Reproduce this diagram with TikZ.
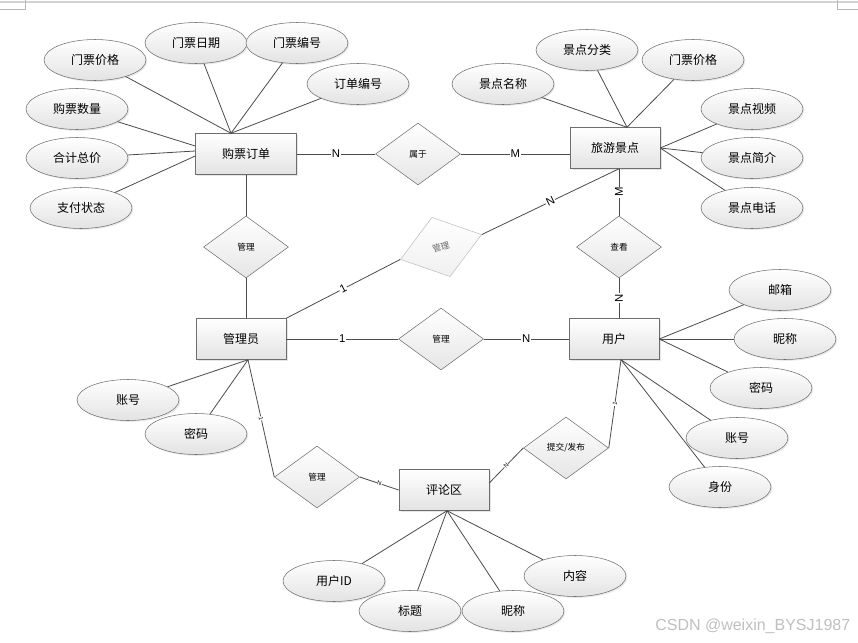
\documentclass[tikz,border=0pt]{standalone}
\usepackage{fontspec}
\setmainfont{Noto Sans CJK SC}
\newfontfamily\cardfont{Liberation Sans}
\usepackage{tikz}
\usetikzlibrary{shapes.geometric, shadows, calc}
\definecolor{linkgray}{RGB}{75,75,75}
\definecolor{boxgray}{RGB}{110,110,110}

\begin{document}
\begin{tikzpicture}[x=0.75pt, y=-0.75pt,
  entity/.style={rectangle, draw=boxgray, top color=white, bottom color=gray!22,
    minimum width=67.5pt, minimum height=30.75pt, inner sep=0pt,
    font=\fontsize{9}{9}\selectfont,
    drop shadow={shadow xshift=1.2pt, shadow yshift=-1.2pt, fill=gray!40}},
  attr/.style={ellipse, draw=boxgray, top color=white, bottom color=gray!22,
    minimum width=76.5pt, minimum height=30.75pt, inner sep=0pt,
    font=\fontsize{9}{9}\selectfont,
    drop shadow={shadow xshift=1pt, shadow yshift=-1pt, fill=gray!35}},
  rel/.style={diamond, draw=boxgray, top color=white, bottom color=gray!20,
    minimum width=63.75pt, minimum height=46.5pt, inner sep=0pt,
    font=\fontsize{6.5}{6.5}\selectfont},
  link/.style={draw=linkgray, line width=0.6pt},
  card/.style={fill=white, inner sep=0.6pt, font=\cardfont\fontsize{8.5}{8.5}\selectfont},
  tick/.style={fill=white, inner sep=0.3pt, font=\cardfont\fontsize{4.5}{4.5}\selectfont}]
\useasboundingbox (0,0) rectangle (858,643);
% Page edge marks
\draw[gray!35, line width=2pt] (0,2) -- (858,2);
\draw[gray!55] (25,0) -- (25,9) -- (0,9);
\draw[gray!55] (837,0) -- (837,9) -- (858,9);
% Entities
\node[entity, minimum width=75.75pt] (order) at (246,154) {购票订单};
\node[entity] (spot) at (615,148) {旅游景点};
\node[entity] (admin) at (241,339) {管理员};
\node[entity] (user) at (614,339) {用户};
\node[entity] (forum) at (444,490) {评论区};
% Relations
\node[rel] (belong) at (418,154) {属于};
\node[rel] (mgrorder) at (246,247) {管理};
\node[rel, rotate=17, draw=gray!50, text=black!60, bottom color=gray!12] (mgrspot) at (441,247) {管理};
\node[rel] (mgruser) at (441,339) {管理};
\node[rel] (view) at (619,247) {查看};
\node[rel] (mgrforum) at (317,477) {管理};
\node[rel] (post) at (566,448) {提交/发布};
% Meeting points of the attribute lines
\coordinate (ordertop) at ($(order.north)+(-15,0)$);
\coordinate (orderw1) at ($(order.west)+(0,-8)$);
\coordinate (orderw2) at ($(order.west)+(0,-3)$);
\coordinate (orderw3) at ($(order.west)+(0,2)$);
\coordinate (spottop) at ($(spot.north)+(12,0)$);
\coordinate (spotbot) at ($(spot.south)+(4,0)$);
\coordinate (userbot) at ($(user.south)+(7,0)$);
\coordinate (adminbot) at ($(admin.south)+(7,0)$);
\coordinate (forumbot) at ($(forum.south)+(3,0)$);
\coordinate (forumr) at ($(forum.east)+(0,-7)$);
% Attributes: name/x/y/target/label
\foreach \nm/\px/\py/\tgt/\lbl in {
  oprice/95/60/ordertop/门票价格,
  odate/196/43/ordertop/门票日期,
  oticket/297/43/ordertop/门票编号,
  onum/358/84/ordertop/订单编号,
  oqty/77/109/orderw1/购票数量,
  ototal/77/158/orderw2/合计总价,
  opay/81/208/orderw3/支付状态,
  sname/503/84/spottop/景点名称,
  stype/587/50/spottop/景点分类,
  sprice/693/60/spottop/门票价格,
  svideo/752/109/spot.east/景点视频,
  sintro/752/158/spot.east/景点简介,
  sphone/752/208/spot.east/景点电话,
  umail/780/290/user.east/邮箱,
  unick/785/339/user.east/昵称,
  upass/761/388/user.east/密码,
  uacct/737/438/userbot/账号,
  urole/720/487/userbot/身份,
  aacct/128/400/adminbot/账号,
  apass/196/434/adminbot/密码,
  fuid/334/581/forumbot/用户ID,
  ftitle/410/611/forumbot/标题,
  fnick/513/611/forumbot/昵称,
  ftext/575/576/forumbot/内容} {
  \node[attr] (\nm) at (\px,\py) {\lbl};
  \draw[link] (\nm) -- (\tgt);
}
% Relation lines
\draw[link] (order.east) -- node[card] {N} (belong.west);
\draw[link] (belong.east) -- node[card] {M} (belong.east -| spot.west);
\draw[link] (order.south) -- (mgrorder.north);
\draw[link] (mgrorder.south) -- (mgrorder.south |- admin.north);
\draw[link] (admin.north east) -- node[card, sloped] {1} (mgrspot.west);
\draw[link] (mgrspot.east) -- node[card, sloped] {N} (spotbot);
\draw[link] (spotbot) -- node[card, rotate=90] {M} (view.north);
\draw[link] (view.south) -- node[card, rotate=90] {N} (view.south |- user.north);
\draw[link] (admin.east) -- node[card] {1} (mgruser.west);
\draw[link] (mgruser.east) -- node[card] {N} (user.west);
\draw[link] (userbot) -- node[tick, sloped] {1} (post.east);
\draw[link] (post.west) -- node[tick, sloped] {N} (forumr);
\draw[link] (adminbot) -- node[tick, sloped] {1} (mgrforum.west);
\draw[link] (mgrforum.east) -- node[tick, sloped] {N} (forum.west);
% Watermark
\node[anchor=east, text=gray!50, font=\cardfont\fontsize{12}{12}\selectfont] (mark) at (855,626) {CSDN @weixin\_BYSJ1987};
\end{tikzpicture}
\end{document}
